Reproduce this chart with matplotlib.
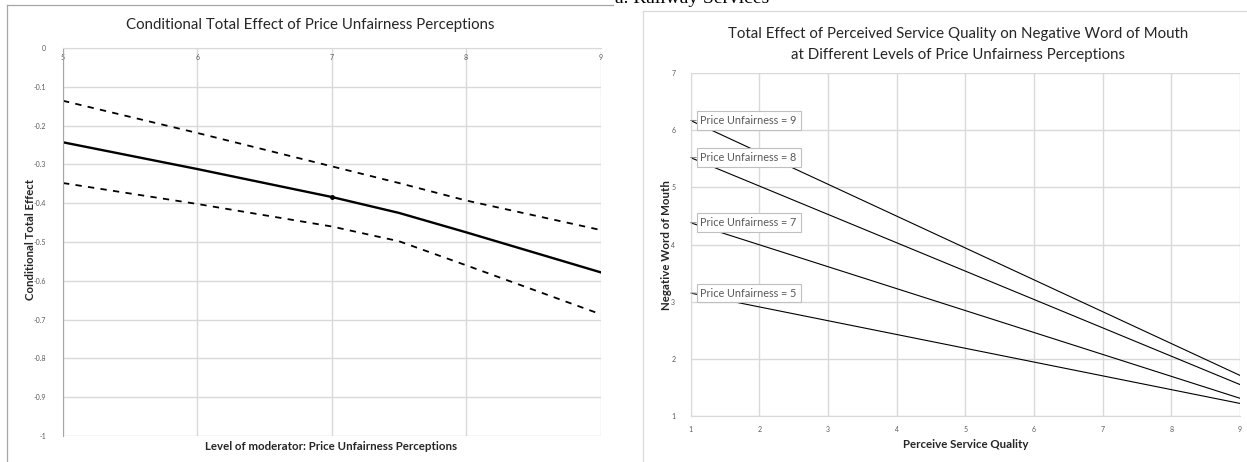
import matplotlib
matplotlib.use("Agg")
import matplotlib.pyplot as plt
from matplotlib.lines import Line2D

plt.rcParams['font.family'] = ['Lato', 'DejaVu Sans']

# ---------------- data ----------------
mod_x = [5, 6, 7, 7.5, 8, 9]
effect = [-0.243, -0.312, -0.384, -0.425, -0.475, -0.578]
upper_ci = [-0.136, -0.219, -0.305, -0.348, -0.393, -0.469]
lower_ci = [-0.348, -0.402, -0.460, -0.498, -0.560, -0.686]

psq_x = [1, 9]
nwom_pu9 = [6.17, 1.71]
nwom_pu8 = [5.52, 1.55]
nwom_pu7 = [4.38, 1.31]
nwom_pu5 = [3.15, 1.22]
series_labels = ["Price Unfairness = 9", "Price Unfairness = 8",
                 "Price Unfairness = 7", "Price Unfairness = 5"]

left_xticks = [5, 6, 7, 8, 9]
left_yticks = [0, -0.1, -0.2, -0.3, -0.4, -0.5, -0.6, -0.7, -0.8, -0.9, -1]
right_xticks = [1, 2, 3, 4, 5, 6, 7, 8, 9]
right_yticks = [1, 2, 3, 4, 5, 6, 7]

W, H = 1247, 462
fig = plt.figure(figsize=(W / 100, H / 100), dpi=100)

def fx(px):
    return px / W

def fy(py):
    return 1 - py / H

GRID = '#d9d9d9'
TICKC = '#595959'

# chart frames
fig.add_artist(Line2D([fx(7), fx(7)], [fy(5), fy(470)], color='#a6a6a6', lw=0.9))
fig.add_artist(Line2D([fx(7), fx(613)], [fy(5), fy(5)], color='#a6a6a6', lw=0.9))
fig.add_artist(Line2D([fx(643), fx(643)], [fy(11), fy(470)], color='#d9d9d9', lw=0.9))
fig.add_artist(Line2D([fx(643), fx(1250)], [fy(11), fy(11)], color='#d9d9d9', lw=0.9))

# cut-off heading at top (as in the reference)
fig.text(fx(692), fy(3), "a. Railway Services", family='Liberation Serif',
         fontsize=14, ha='center', va='baseline', color='black')

# ---------------- left chart ----------------
ax1 = fig.add_axes([fx(63), fy(436), fx(600.5) - fx(63), fy(48) - fy(436)])
ax1.plot(mod_x, effect, color='black', lw=1.7, marker='o', markevery=[2], ms=2.5)
ax1.plot(mod_x, upper_ci, color='black', lw=1.3, dashes=(3.5, 3.5))
ax1.plot(mod_x, lower_ci, color='black', lw=1.3, dashes=(3.5, 3.5))
ax1.set_xlim(5, 9)
ax1.set_ylim(-1, 0)
ax1.set_xticks(left_xticks)
ax1.set_xticklabels([str(v) for v in left_xticks])
ax1.set_yticks(left_yticks)
ax1.set_yticklabels([('%g' % v) for v in left_yticks])
ax1.xaxis.set_ticks_position('top')
ax1.tick_params(axis='x', length=0, pad=-9, labelsize=5, labelcolor=TICKC)
ax1.tick_params(axis='y', length=0, pad=12, labelsize=5, labelcolor=TICKC)
ax1.grid(True, color=GRID, lw=1.0)
ax1.set_axisbelow(True)
for s in ['right', 'bottom']:
    ax1.spines[s].set_visible(False)
ax1.spines['top'].set_color(GRID)
ax1.spines['left'].set_color('#a6a6a6')
fig.text(fx(310), fy(25), "Conditional Total Effect of Price Unfairness Perceptions",
         fontsize=10.8, ha='center', va='center', color='#262626')
fig.text(fx(331), fy(446), "Level of moderator: Price Unfairness Perceptions",
         fontsize=8.3, fontweight='bold', ha='center', va='center', color='#262626')
fig.text(fx(30), fy(240), "Conditional Total Effect", rotation=90,
         fontsize=8.2, fontweight='bold', ha='center', va='center', color='#262626')

# ---------------- right chart ----------------
ax2 = fig.add_axes([fx(690.5), fy(416), fx(1240) - fx(690.5), fy(73) - fy(416)])
for ys in [nwom_pu9, nwom_pu8, nwom_pu7, nwom_pu5]:
    ax2.plot(psq_x, ys, color='black', lw=0.8)
ax2.set_xlim(1, 9)
ax2.set_ylim(1, 7)
ax2.set_xticks(right_xticks)
ax2.set_yticks(right_yticks)
ax2.tick_params(axis='both', length=0, labelsize=5, labelcolor=TICKC)
ax2.tick_params(axis='x', pad=7)
ax2.tick_params(axis='y', pad=11)
ax2.grid(True, color=GRID, lw=1.0)
ax2.set_axisbelow(True)
for s in ['right', 'top']:
    ax2.spines[s].set_visible(False)
ax2.spines['left'].set_color(GRID)
ax2.spines['bottom'].set_color(GRID)
for ys, lab in zip([nwom_pu9, nwom_pu8, nwom_pu7, nwom_pu5], series_labels):
    ax2.annotate(lab, xy=(psq_x[0], ys[0]), xytext=(10, 0), textcoords='offset pixels',
                 ha='left', va='center', fontsize=7.8, color=TICKC,
                 bbox=dict(boxstyle='square,pad=0.35', fc='white', ec='#bfbfbf', lw=0.8),
                 arrowprops=dict(arrowstyle='-', color='#7f7f7f', lw=0.7,
                                 shrinkA=0, shrinkB=0))
fig.text(fx(958), fy(34), "Total Effect of Perceived Service Quality on Negative Word of Mouth",
         fontsize=10.8, ha='center', va='center', color='#262626')
fig.text(fx(958), fy(55), "at Different Levels of Price Unfairness Perceptions",
         fontsize=10.8, ha='center', va='center', color='#262626')
fig.text(fx(966), fy(444), "Perceive Service Quality",
         fontsize=8.3, fontweight='bold', ha='center', va='center', color='#262626')
fig.text(fx(666), fy(245), "Negative Word of Mouth", rotation=90,
         fontsize=8.3, fontweight='bold', ha='center', va='center', color='#262626')

fig.savefig("out.png", dpi=100)
